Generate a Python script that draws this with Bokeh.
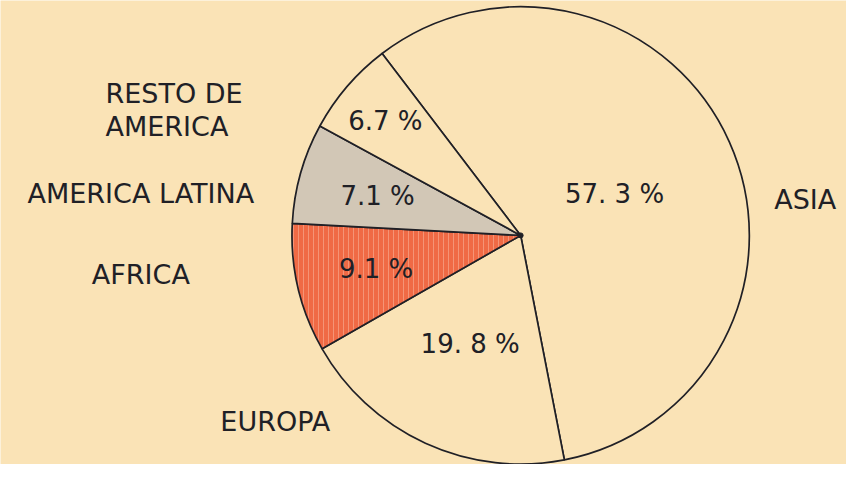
import math
from bokeh.plotting import figure
from bokeh.models import ColumnDataSource, Range1d
from bokeh.core.properties import value
from bokeh.embed import file_html
from bokeh.resources import INLINE

# ---- data (clockwise from Asia) ----
regions = ["ASIA", "EUROPA", "AFRICA", "AMERICA LATINA", "RESTO DE\nAMERICA"]
shares = [57.3, 19.8, 9.1, 7.1, 6.7]
share_text = ["57. 3 %", "19. 8 %", "9.1 %", "7.1 %", "6.7 %"]

# ---- styling / layout ----
BG = "#FAE3B6"
INK = "#202026"
fills = [BG, BG, "#F06A45", "#D2C7B6", BG]
hatches = [" ", " ", "|", " ", " "]
label_frac = [0.45, 0.53, 0.65, 0.65, 0.78]
START_DEG = -37.3          # clockwise from 12 o'clock
REF_W, REF_H = 862, 480    # drawing space
CX, CY, R = 530, 237, 233
W, H = 846, 464            # figure size in pixels
# outer name labels (x, y, align)
name_pos = [(820, 274, "center"), (280, 45, "center"), (143, 197, "center"),
            (143, 280, "center"), (107, 367, "left")]

total = sum(shares)
starts, ends, px, py = [], [], [], []
acc = START_DEG
for s, f in zip(shares, label_frac):
    span = s / total * 360.0
    th0, th1 = acc, acc + span
    starts.append(math.radians(90 - th1))
    ends.append(math.radians(90 - th0))
    mid = math.radians((th0 + th1) / 2)
    px.append(CX + f * R * math.sin(mid))
    py.append(CY + f * R * math.cos(mid))
    acc = th1

src = ColumnDataSource(dict(start=starts, end=ends, fill=fills, hatch=hatches,
                            px=px, py=py, ptxt=share_text))

p = figure(width=W, height=H, output_backend="svg", toolbar_location=None,
           x_range=Range1d(0, REF_W), y_range=Range1d(0, REF_H), min_border=0)
p.axis.visible = False
p.grid.visible = False
p.outline_line_color = None
p.background_fill_color = BG
p.border_fill_color = BG

p.wedge(x=CX, y=CY, radius=R, start_angle="start", end_angle="end", source=src,
        fill_color="fill", line_color=INK, line_width=1.7,
        hatch_pattern="hatch", hatch_color="#F9B096", hatch_alpha=0.6,
        hatch_scale=5, hatch_weight=1)
p.scatter(x=[CX], y=[CY], size=5, color=INK)

p.text(x="px", y="py", text="ptxt", source=src, text_align="center",
       text_baseline="middle", text_font=value("DejaVu Sans"),
       text_font_size="26px", text_color=INK)

nsrc = ColumnDataSource(dict(x=[q[0] for q in name_pos], y=[q[1] for q in name_pos],
                             t=regions, a=[q[2] for q in name_pos]))
p.text(x="x", y="y", text="t", source=nsrc, text_align="a",
       text_baseline="middle", text_font=value("DejaVu Sans"),
       text_font_size="27px", text_color=INK, text_line_height=1.05)

open("out.html", "w").write(file_html(p, INLINE))
